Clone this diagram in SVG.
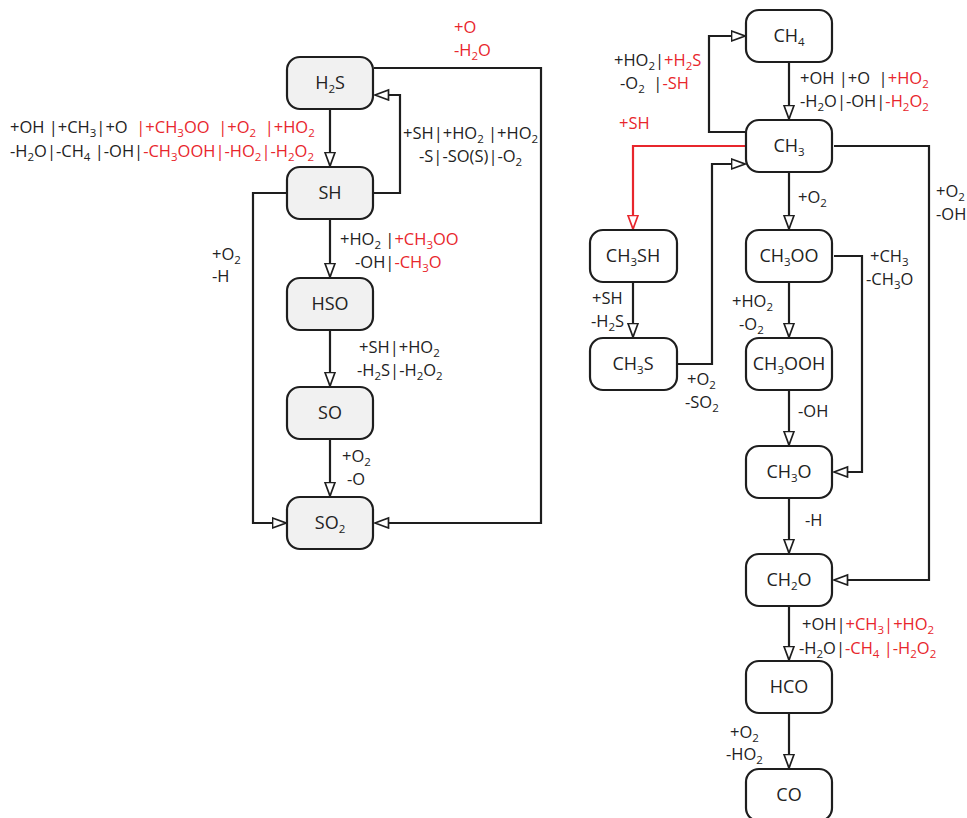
<svg xmlns="http://www.w3.org/2000/svg" width="967" height="818" viewBox="0 0 967 818">
<defs>
<style>
.n rect{stroke:#1e1e1e;stroke-width:2.2;}
.g rect{fill:#f1f1f1;}
.w rect{fill:#ffffff;}
.n text{font-family:"Open Sans","Liberation Sans",sans-serif;font-size:18px;fill:#222;text-anchor:middle;}
.c path{fill:none;stroke:#1e1e1e;stroke-width:2.2;}
.c path.r{stroke:#e8262c;}
.l text{font-family:"Open Sans","Liberation Sans",sans-serif;font-size:16.5px;fill:#222;white-space:pre;}
.l .red{fill:#e8262c;}
.s{font-size:11.5px;baseline-shift:-4px;}
</style>
<marker id="a" markerUnits="userSpaceOnUse" markerWidth="16" markerHeight="13" refX="14.5" refY="6" orient="auto"><path d="M1,1 L14.5,6 L1,11 z" fill="#fff" stroke="#1e1e1e" stroke-width="1.7"/></marker>
<marker id="ar" markerUnits="userSpaceOnUse" markerWidth="16" markerHeight="13" refX="14.5" refY="6" orient="auto"><path d="M1,1 L14.5,6 L1,11 z" fill="#fff" stroke="#e8262c" stroke-width="1.7"/></marker>
</defs>
<rect width="967" height="818" fill="#fff"/>
<g id="connectors" class="c">
<path d="M330 110 V166" marker-end="url(#a)"/>
<path d="M374 193 H400 V95 H375" marker-end="url(#a)"/>
<path d="M330 220 V277" marker-end="url(#a)"/>
<path d="M330 330 V386" marker-end="url(#a)"/>
<path d="M330 440 V496" marker-end="url(#a)"/>
<path d="M286 193 H253 V523 H286" marker-end="url(#a)"/>
<path d="M374 68 H541 V523 H375" marker-end="url(#a)"/>
<path d="M789 63 V119" marker-end="url(#a)"/>
<path d="M745 132 H709 V36 H745" marker-end="url(#a)"/>
<path class="r" d="M745 146 H633 V229" marker-end="url(#ar)"/>
<path d="M633 283 V337" marker-end="url(#a)"/>
<path d="M678 364 H712 V164 H745" marker-end="url(#a)"/>
<path d="M789 173 V229" marker-end="url(#a)"/>
<path d="M789 283 V337" marker-end="url(#a)"/>
<path d="M789 391 V445" marker-end="url(#a)"/>
<path d="M834 256 H862 V472 H834" marker-end="url(#a)"/>
<path d="M789 499 V553" marker-end="url(#a)"/>
<path d="M834 146 H929 V580 H834" marker-end="url(#a)"/>
<path d="M789 607 V660" marker-end="url(#a)"/>
<path d="M789 714 V768" marker-end="url(#a)"/>
</g>
<g id="H2S" class="n g"><rect x="287" y="57" width="86" height="52" rx="13"/><text x="330" y="89">H<tspan class="s">2</tspan>S</text></g>
<g id="SH" class="n g"><rect x="287" y="167" width="86" height="52" rx="13"/><text x="330" y="199">SH</text></g>
<g id="HSO" class="n g"><rect x="287" y="278" width="86" height="52" rx="13"/><text x="330" y="310">HSO</text></g>
<g id="SO" class="n g"><rect x="287" y="387" width="86" height="52" rx="13"/><text x="330" y="419">SO</text></g>
<g id="SO2" class="n g"><rect x="287" y="497" width="86" height="52" rx="13"/><text x="330" y="529">SO<tspan class="s">2</tspan></text></g>
<g id="CH4" class="n w"><rect x="746" y="10" width="86" height="52" rx="13"/><text x="789" y="42">CH<tspan class="s">4</tspan></text></g>
<g id="CH3" class="n w"><rect x="746" y="120" width="86" height="52" rx="13"/><text x="789" y="152">CH<tspan class="s">3</tspan></text></g>
<g id="CH3SH" class="n w"><rect x="590" y="230" width="87" height="52" rx="13"/><text x="633" y="262">CH<tspan class="s">3</tspan>SH</text></g>
<g id="CH3S" class="n w"><rect x="590" y="338" width="87" height="52" rx="13"/><text x="633" y="370">CH<tspan class="s">3</tspan>S</text></g>
<g id="CH3OO" class="n w"><rect x="746" y="230" width="86" height="52" rx="13"/><text x="789" y="262">CH<tspan class="s">3</tspan>OO</text></g>
<g id="CH3OOH" class="n w"><rect x="746" y="338" width="86" height="52" rx="13"/><text x="789" y="370">CH<tspan class="s">3</tspan>OOH</text></g>
<g id="CH3O" class="n w"><rect x="746" y="446" width="86" height="52" rx="13"/><text x="789" y="478">CH<tspan class="s">3</tspan>O</text></g>
<g id="CH2O" class="n w"><rect x="746" y="554" width="86" height="52" rx="13"/><text x="789" y="586">CH<tspan class="s">2</tspan>O</text></g>
<g id="HCO" class="n w"><rect x="746" y="661" width="86" height="52" rx="13"/><text x="789" y="693">HCO</text></g>
<g id="CO" class="n w"><rect x="746" y="769" width="86" height="52" rx="13"/><text x="789" y="801">CO</text></g>
<g id="labels" class="l">
<text x="454" y="33" class="red">+O</text>
<text x="454" y="56" class="red">-H<tspan class="s">2</tspan>O</text>
<text x="10" y="133">+OH |+CH<tspan class="s">3</tspan>|+O  <tspan class="red">|+CH</tspan><tspan class="red s">3</tspan><tspan class="red">OO  |+O</tspan><tspan class="red s">2</tspan><tspan class="red">  |+HO</tspan><tspan class="red s">2</tspan></text>
<text x="10" y="157">-H<tspan class="s">2</tspan>O|-CH<tspan class="s">4</tspan> |-OH|<tspan class="red">-CH</tspan><tspan class="red s">3</tspan><tspan class="red">OOH|-HO</tspan><tspan class="red s">2</tspan><tspan class="red">|-H</tspan><tspan class="red s">2</tspan><tspan class="red">O</tspan><tspan class="red s">2</tspan></text>
<text x="403" y="139">+SH|+HO<tspan class="s">2</tspan> |+HO<tspan class="s">2</tspan></text>
<text x="419" y="162">-S|-SO(S)|-O<tspan class="s">2</tspan></text>
<text x="340" y="245">+HO<tspan class="s">2</tspan> |<tspan class="red">+CH</tspan><tspan class="red s">3</tspan><tspan class="red">OO</tspan></text>
<text x="355" y="268">-OH|<tspan class="red">-CH</tspan><tspan class="red s">3</tspan><tspan class="red">O</tspan></text>
<text x="212" y="260">+O<tspan class="s">2</tspan></text>
<text x="212" y="282">-H</text>
<text x="359" y="353">+SH|+HO<tspan class="s">2</tspan></text>
<text x="357" y="376">-H<tspan class="s">2</tspan>S|-H<tspan class="s">2</tspan>O<tspan class="s">2</tspan></text>
<text x="342" y="462">+O<tspan class="s">2</tspan></text>
<text x="347" y="485">-O</text>
<text x="614" y="66">+HO<tspan class="s">2</tspan>|<tspan class="red">+H</tspan><tspan class="red s">2</tspan><tspan class="red">S</tspan></text>
<text x="620" y="89">-O<tspan class="s">2</tspan>  |<tspan class="red">-SH</tspan></text>
<text x="800" y="84">+OH |+O  |<tspan class="red">+HO</tspan><tspan class="red s">2</tspan></text>
<text x="800" y="107">-H<tspan class="s">2</tspan>O|-OH|<tspan class="red">-H</tspan><tspan class="red s">2</tspan><tspan class="red">O</tspan><tspan class="red s">2</tspan></text>
<text x="619" y="129" class="red">+SH</text>
<text x="936" y="197">+O<tspan class="s">2</tspan></text>
<text x="936" y="220">-OH</text>
<text x="798" y="203">+O<tspan class="s">2</tspan></text>
<text x="592" y="304">+SH</text>
<text x="591" y="327">-H<tspan class="s">2</tspan>S</text>
<text x="687" y="385">+O<tspan class="s">2</tspan></text>
<text x="685" y="408">-SO<tspan class="s">2</tspan></text>
<text x="732" y="307">+HO<tspan class="s">2</tspan></text>
<text x="739" y="330">-O<tspan class="s">2</tspan></text>
<text x="870" y="262">+CH<tspan class="s">3</tspan></text>
<text x="866" y="285">-CH<tspan class="s">3</tspan>O</text>
<text x="798" y="417">-OH</text>
<text x="805" y="526">-H</text>
<text x="802" y="630">+OH|<tspan class="red">+CH</tspan><tspan class="red s">3</tspan><tspan class="red">|+HO</tspan><tspan class="red s">2</tspan></text>
<text x="799" y="654">-H<tspan class="s">2</tspan>O|<tspan class="red">-CH</tspan><tspan class="red s">4</tspan><tspan class="red"> |-H</tspan><tspan class="red s">2</tspan><tspan class="red">O</tspan><tspan class="red s">2</tspan></text>
<text x="730" y="738">+O<tspan class="s">2</tspan></text>
<text x="726" y="760">-HO<tspan class="s">2</tspan></text>
</g>
</svg>
